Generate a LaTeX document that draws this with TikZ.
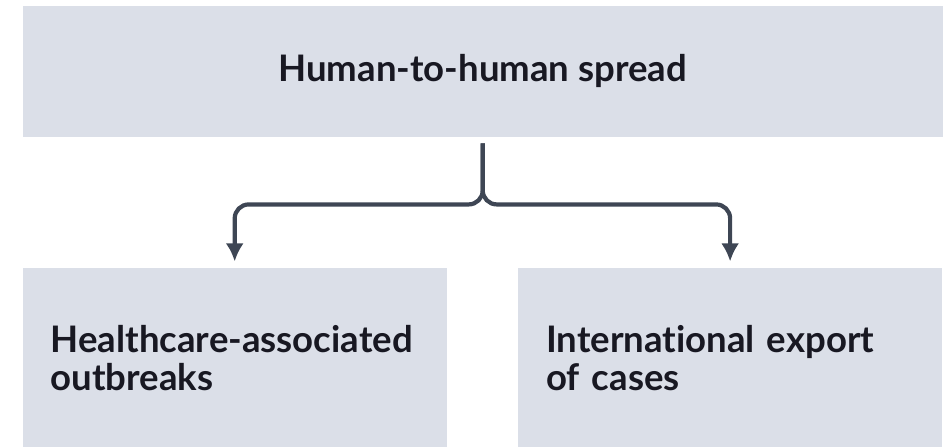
\documentclass[tikz,border=0pt]{standalone}
\usepackage{fontspec}
\setmainfont[Ligatures=NoCommon]{Lato}
\usepackage{tikz}
\usetikzlibrary{
  arrows.meta,
  positioning
}
\definecolor{PanelGray}{RGB}{219,223,232}
\definecolor{LinkSlate}{RGB}{62,70,84}
\definecolor{InkBlack}{RGB}{24,24,34}
\tikzset{
  spreadnode/.style={fill=PanelGray,minimum width=92mm,minimum height=13.1mm,inner sep=0pt,align=center,text=InkBlack,font=\bfseries\fontsize{10.4}{10.8}\selectfont},
  outcomenode/.style={fill=PanelGray,text width=36.8mm,inner xsep=2.8mm,minimum height=18mm,align=left,text=InkBlack,font=\bfseries\fontsize{10.4}{10.8}\selectfont},
  branch/.style={-{Latex[length=1.8mm,width=1.8mm]},line width=0.42mm,draw=LinkSlate,rounded corners=1.4mm}
}

\begin{document}
\begin{tikzpicture}[node distance=13mm and 7mm]
\useasboundingbox (0,0) rectangle (94.8mm,-44.6mm);
\node[spreadnode, anchor=north west] (spread) at (2.2mm,-0.5mm) {Human-to-human spread};
\node[outcomenode, below right=13mm and 0mm of spread.south west] (hospital) {Healthcare-associated\\outbreaks};
\node[outcomenode, right=7mm of hospital] (export) {International export\\of cases};

\coordinate[below=0.6mm of spread.south] (stem);
\draw[branch] (stem) -- ++(0,-6.1mm) -| ([yshift=0.6mm]hospital.north);
\draw[branch] (stem) -- ++(0,-6.1mm) -| ([yshift=0.6mm]export.north);
\end{tikzpicture}
\end{document}
